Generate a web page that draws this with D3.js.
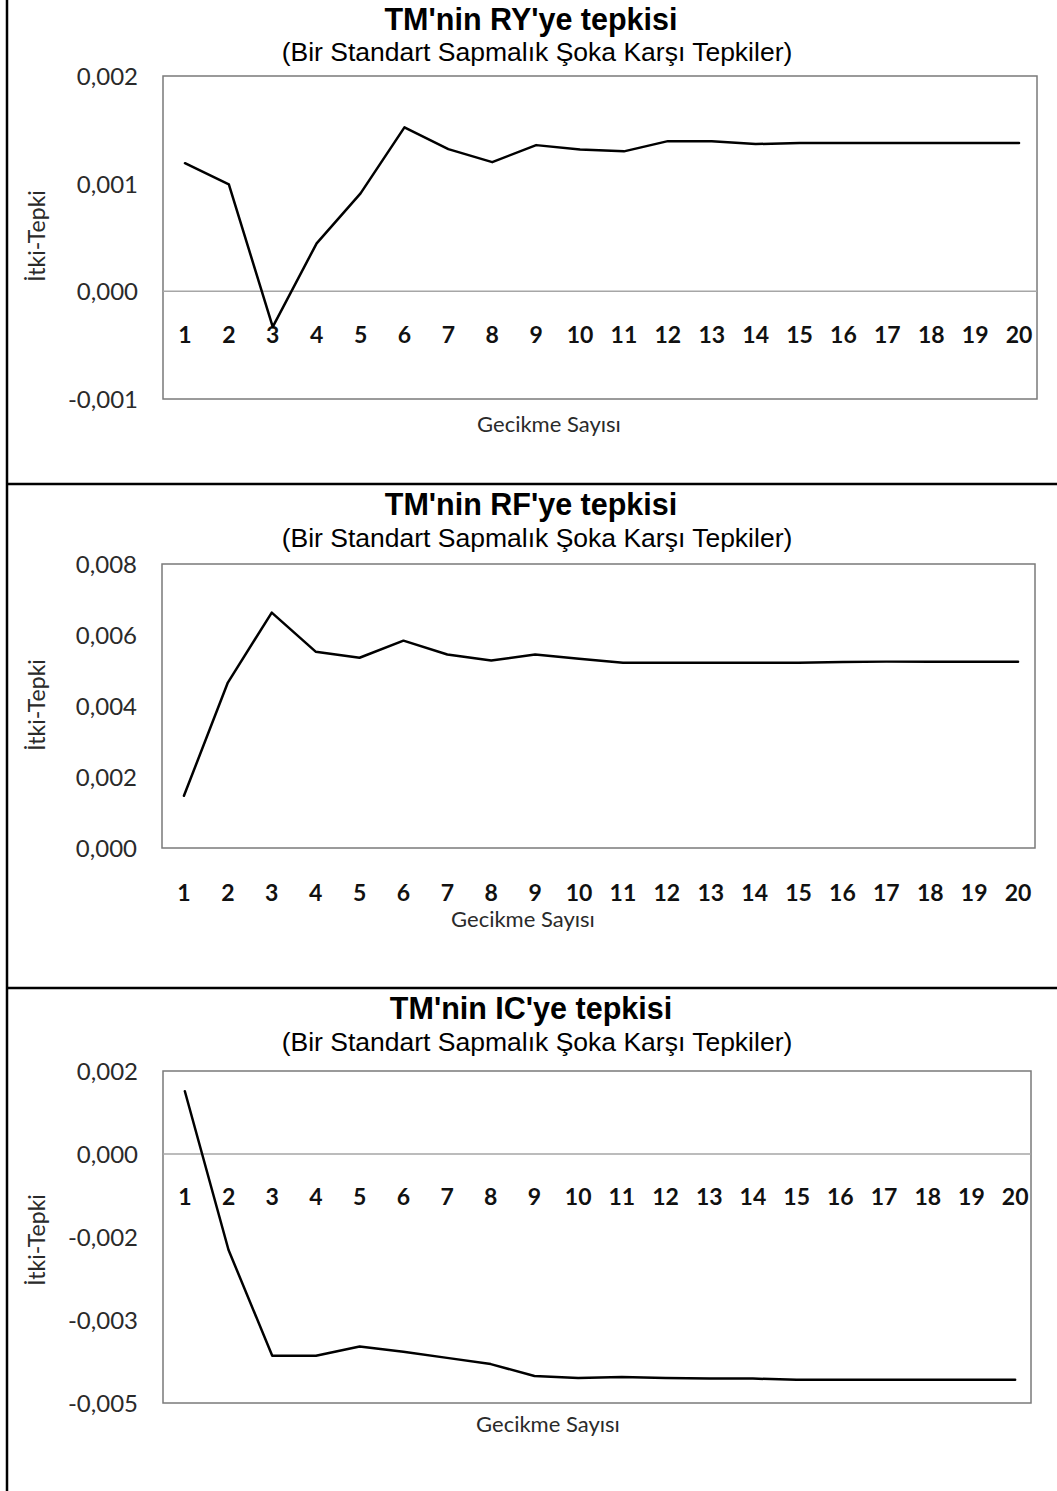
<!DOCTYPE html>
<html lang="tr">
<head>
<meta charset="utf-8">
<script src="https://cdn.jsdelivr.net/npm/d3@7/dist/d3.min.js"></script>
<style>
  html, body { margin: 0; padding: 0; background: #fff; }
  svg { display: block; }
</style>
</head>
<body>
<svg id="chart" width="1057" height="1491"></svg>
<script>
// Lags (gecikme) shared by all three impulse-response panels
const lags = d3.range(1, 21);

// Response of TM to a one-standard-deviation shock in RY
const ryResponse = [0.00119, 0.000994, -0.00033, 0.000446, 0.00091, 0.001523, 0.001321,
  0.0012, 0.001358, 0.001318, 0.0013, 0.001395, 0.001395, 0.001368, 0.001377,
  0.001377, 0.001377, 0.001377, 0.001377, 0.001377];

// Response of TM to a one-standard-deviation shock in RF
const rfResponse = [0.00147, 0.00466, 0.00663, 0.00553, 0.00536, 0.00584, 0.00545,
  0.00528, 0.00545, 0.00533, 0.00522, 0.00522, 0.00522, 0.00522, 0.00522,
  0.00524, 0.00525, 0.00525, 0.00525, 0.00525];

// Response of TM to a one-standard-deviation shock in IC
const icResponse = [0.00121, -0.00185, -0.00389, -0.00389, -0.00371, -0.00381, -0.00393,
  -0.00405, -0.00428, -0.00432, -0.0043, -0.00432, -0.00433, -0.00433, -0.00435,
  -0.00435, -0.00435, -0.00435, -0.00435, -0.00435];

// Value-axis ticks for each panel
const ryTicks = [-0.001, 0, 0.001, 0.002];
const rfTicks = [0, 0.002, 0.004, 0.006, 0.008];
const icTicks = [-0.0048, -0.0032, -0.0016, 0, 0.0016];

// Texts
const titles = ["TM'nin RY'ye tepkisi", "TM'nin RF'ye tepkisi", "TM'nin IC'ye tepkisi"];
const subtitle = "(Bir Standart Sapmalık Şoka Karşı Tepkiler)";
const xTitle = "Gecikme Sayısı";
const yTitle = "İtki-Tepki";

const svg = d3.select("#chart");

// Table frame around the three charts
const frame = svg.append("g").attr("stroke", "#000").attr("stroke-width", 2.5);
frame.append("line").attr("x1", 7).attr("x2", 7).attr("y1", 0).attr("y2", 1491);
frame.append("line").attr("x1", 7).attr("x2", 1057).attr("y1", 484).attr("y2", 484);
frame.append("line").attr("x1", 7).attr("x2", 1057).attr("y1", 988).attr("y2", 988);

const fmt = v => d3.format(".3f")(v).replace(".", ",").replace("−", "-");

const panels = [
  { values: ryResponse, ticks: ryTicks, title: titles[0], domain: [-0.001, 0.002],
    left: 163, right: 1037, top: 76, bottom: 399, xEnd: 1041, zero: true,
    titleY: 30, subY: 61, catY: 343, xtX: 549, xtY: 432, ytY: 236 },
  { values: rfResponse, ticks: rfTicks, title: titles[1], domain: [0, 0.008],
    left: 162, right: 1035, top: 564, bottom: 848, xEnd: 1040, zero: false,
    titleY: 515, subY: 547, catY: 901, xtX: 523, xtY: 927, ytY: 705 },
  { values: icResponse, ticks: icTicks, title: titles[2], domain: [-0.0048, 0.0016],
    left: 163, right: 1031, top: 1071, bottom: 1403, xEnd: 1037, zero: true,
    titleY: 1019, subY: 1051, catY: 1205, xtX: 548, xtY: 1432, ytY: 1240 }
];

panels.forEach(p => {
  const g = svg.append("g");

  const x = d3.scalePoint().domain(lags).range([p.left, p.xEnd]).padding(0.5);
  const y = d3.scaleLinear().domain(p.domain).range([p.bottom, p.top]);

  // Titles
  g.append("text")
    .attr("x", 531).attr("y", p.titleY)
    .attr("text-anchor", "middle")
    .attr("font-family", "'Liberation Sans', Arial, sans-serif")
    .attr("font-weight", "bold").attr("font-size", 30.5)
    .text(p.title);
  g.append("text")
    .attr("x", 537).attr("y", p.subY)
    .attr("text-anchor", "middle")
    .attr("font-family", "'Liberation Sans', Arial, sans-serif")
    .attr("font-size", 26.5)
    .text(subtitle);

  // Plot area border
  g.append("rect")
    .attr("x", p.left).attr("y", p.top)
    .attr("width", p.right - p.left).attr("height", p.bottom - p.top)
    .attr("fill", "none").attr("stroke", "#7a7a7a").attr("stroke-width", 1.5);

  // Value axis labels
  const yAxis = d3.axisLeft(y).tickValues(p.ticks).tickFormat(fmt).tickSize(0).tickPadding(0);
  const ya = g.append("g").attr("transform", `translate(${p.left - 25},0)`).call(yAxis);
  ya.select(".domain").remove();
  ya.selectAll("text")
    .attr("font-family", "Lato, 'Open Sans', sans-serif")
    .attr("font-size", 24).attr("fill", "#2a2a2a")
    .attr("dy", "0.36em");

  // Horizontal zero line
  if (p.zero) {
    g.append("line")
      .attr("x1", p.left).attr("x2", p.right)
      .attr("y1", y(0)).attr("y2", y(0))
      .attr("stroke", "#a6a6a6").attr("stroke-width", 1.5);
  }

  // Lag labels
  g.append("g").selectAll("text").data(lags).join("text")
    .attr("x", d => x(d)).attr("y", p.catY)
    .attr("text-anchor", "middle")
    .attr("font-family", "Lato, 'Open Sans', sans-serif")
    .attr("font-weight", "bold").attr("font-size", 23)
    .attr("fill", "#111")
    .text(d => d);

  // Axis titles
  g.append("text")
    .attr("x", p.xtX).attr("y", p.xtY)
    .attr("text-anchor", "middle")
    .attr("font-family", "Lato, 'Open Sans', sans-serif")
    .attr("font-size", 22).attr("fill", "#2a2a2a")
    .text(xTitle);
  g.append("text")
    .attr("transform", `translate(45,${p.ytY}) rotate(-90)`)
    .attr("text-anchor", "middle")
    .attr("font-family", "Lato, 'Open Sans', sans-serif")
    .attr("font-size", 23).attr("fill", "#2a2a2a")
    .text(yTitle);

  // Response line
  const line = d3.line().x((d, i) => x(lags[i])).y(d => y(d));
  g.append("path")
    .datum(p.values)
    .attr("d", line)
    .attr("fill", "none")
    .attr("stroke", "#000").attr("stroke-width", 2.5)
    .attr("stroke-linejoin", "round").attr("stroke-linecap", "round");
});
</script>
</body>
</html>
